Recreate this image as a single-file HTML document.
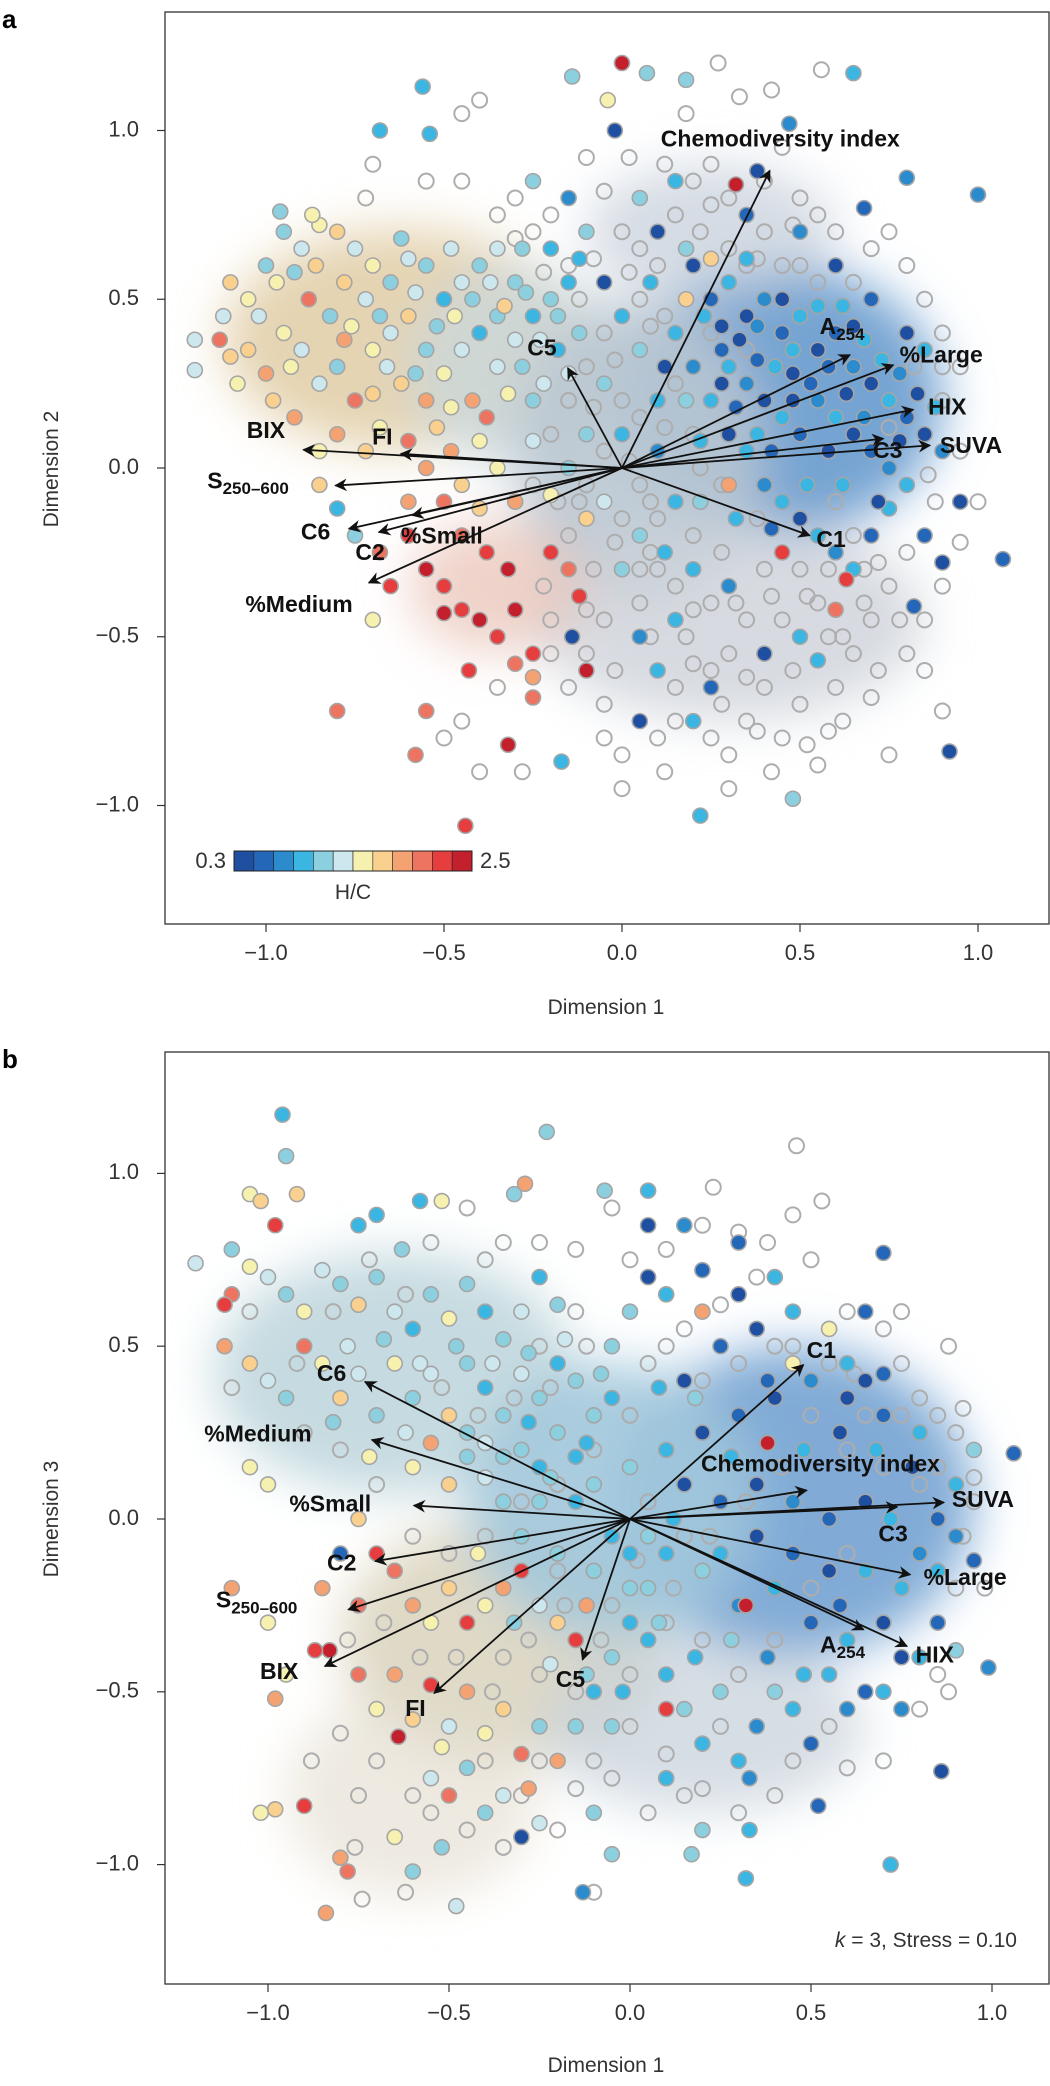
<!DOCTYPE html>
<html><head><meta charset="utf-8"><style>
html,body{margin:0;padding:0;background:#fff;}
svg{display:block;font-family:"Liberation Sans",sans-serif;}
</style></head><body>
<svg id="fig" width="1050" height="2086" viewBox="0 0 1050 2086" xmlns="http://www.w3.org/2000/svg">
<defs>
<filter id="blur" x="-50%" y="-50%" width="200%" height="200%"><feGaussianBlur stdDeviation="24"/></filter>
<marker id="ah" viewBox="0 0 10 10" refX="9" refY="5" markerWidth="7" markerHeight="7" orient="auto-start-reverse"><path d="M0,0 L10,5 L0,10 L3,5 z" fill="#111"/></marker>
<clipPath id="clipA"><rect x="165" y="12" width="884" height="912"/></clipPath>
<clipPath id="clipB"><rect x="165" y="1052" width="884" height="932"/></clipPath>
</defs>
<text x="2" y="28" font-size="26" font-weight="bold">a</text>
<text x="2" y="1068" font-size="26" font-weight="bold">b</text>
<g id="panelA"></g>
<g id="panelB"></g>
</svg>
<script>
const hcColors = ["#1f4fa0","#2467b8","#2b8bcd","#3bb6e2","#8ccfdf","#cde7ee","#f7f1b0","#fad08e","#f5a272","#ee7462","#e63e3e","#c41f2d"];
const hcTickLabels = ["0.3","2.5"];
const xTicks = [-1.0,-0.5,0.0,0.5,1.0];
const yTicks = [-1.0,-0.5,0.0,0.5,1.0];

const ptsA = [
[-1.1,0.55,7],[-1.05,0.5,6],[-1.12,0.45,5],[-1.0,0.6,4],[-0.95,0.7,4],[-0.9,0.65,5],[-0.85,0.72,6],[-0.8,0.7,7],[-0.75,0.65,5],[-1.05,0.35,7],[-1.0,0.28,8],[-0.95,0.4,6],[-0.9,0.35,5],[-0.88,0.5,9],[-0.82,0.45,4],[-0.78,0.55,7],[-0.72,0.5,5],[-0.7,0.6,6],[-0.65,0.55,4],[-0.6,0.62,5],[-0.55,0.6,4],[-1.08,0.25,6],[-0.98,0.2,7],[-0.92,0.15,8],[-0.85,0.25,5],[-0.8,0.3,4],[-0.75,0.2,9],[-0.7,0.35,6],[-0.65,0.4,5],[-0.6,0.45,7],[-0.55,0.35,4],[-0.5,0.5,3],[-0.45,0.55,5],[-0.4,0.6,4],[-0.35,0.65,5],[-0.3,0.55,4],[-0.62,0.25,7],[-0.55,0.2,8],[-0.5,0.28,6],[-0.45,0.35,5],[-0.4,0.4,3],[-0.35,0.45,4],[-0.3,0.38,5],[-0.25,0.45,3],[-0.2,0.5,4],[-0.15,0.55,3],[-0.42,0.2,8],[-0.38,0.15,9],[-0.32,0.22,6],[-0.28,0.3,4],[-0.22,0.25,5],[-0.18,0.35,3],[-0.12,0.4,4],[-0.8,0.1,8],[-0.72,0.05,7],[-0.68,0.12,6],[-0.6,0.08,9],[-0.52,0.12,7],[-0.48,0.05,8],[-0.4,0.08,6],[-0.85,0.05,6],
[-1.02,0.45,5],[-0.97,0.55,6],[-0.92,0.58,4],[-0.86,0.6,7],[-0.76,0.42,6],[-0.68,0.45,4],[-0.58,0.52,5],[-0.52,0.42,4],[-0.47,0.45,6],[-0.42,0.5,4],[-0.37,0.55,5],[-0.33,0.48,7],[-0.27,0.52,4],[-0.23,0.38,5],[-0.18,0.45,4],[-0.66,0.3,5],[-0.58,0.28,4],[-0.48,0.18,6],[-0.35,0.3,5],[-0.25,0.2,4],[-0.15,0.28,5],[-0.7,0.22,7],[-0.78,0.38,8],[-0.93,0.3,6],[-1.1,0.33,7],[-0.62,0.68,4],[-0.48,0.65,5],[-0.28,0.65,4],[-0.12,0.62,3],[-0.55,0.0,8],[-0.45,-0.05,7],[-0.35,0.0,6],[-0.25,0.08,5],[-0.15,0.0,4],
[-1.2,0.38,5],[-1.2,0.29,5],[-1.13,0.38,9],[-0.96,0.76,4],[-0.87,0.75,6],[-0.56,1.13,3],[-0.68,1.0,3],[-0.54,0.99,3],[-0.14,1.16,4],[0.07,1.17,4],[0.18,1.15,4],[0.65,1.17,3],[0.0,1.2,11],[-0.04,1.09,6],[-0.02,1.0,0],[0.47,1.02,2],[0.32,0.84,11],[0.38,0.88,0],[1.0,0.81,2],[0.8,0.86,2],[0.68,0.77,1],
[-0.6,-0.2,10],[-0.55,-0.3,11],[-0.5,-0.35,10],[-0.5,-0.43,11],[-0.45,-0.42,10],[-0.4,-0.45,11],[-0.35,-0.5,10],[-0.3,-0.42,11],[-0.25,-0.55,10],[-0.3,-0.58,9],[-0.25,-0.62,8],[-0.43,-0.6,10],[-0.45,-0.2,9],[-0.38,-0.25,10],[-0.32,-0.3,11],[-0.2,-0.25,10],[-0.15,-0.3,9],[-0.12,-0.38,10],[-0.65,-0.35,10],[-0.7,-0.45,6],[-0.68,-0.25,9],[-0.8,-0.72,9],[-0.55,-0.72,9],[-0.58,-0.85,9],[-0.32,-0.82,11],[-0.44,-1.06,10],[-0.25,-0.68,9],[-0.1,-0.6,11],[-0.6,-0.1,8],[-0.5,-0.1,9],[-0.4,-0.12,7],[-0.3,-0.1,8],[-0.2,-0.08,6],[-0.1,-0.15,7],[-0.8,-0.12,3],[-0.75,-0.2,4],[-0.85,-0.05,7],
[0.2,0.6,0],[0.25,0.5,1],[0.3,0.55,3],[0.35,0.45,0],[0.4,0.5,2],[0.45,0.4,1],[0.5,0.45,3],[0.55,0.35,0],[0.6,0.4,1],[0.65,0.3,2],[0.7,0.25,0],[0.75,0.2,3],[0.8,0.15,1],[0.85,0.1,0],[0.9,0.05,2],[0.3,0.3,3],[0.35,0.25,2],[0.4,0.2,0],[0.45,0.15,3],[0.5,0.1,1],[0.55,0.2,2],[0.6,0.15,3],[0.65,0.1,0],[0.7,0.05,1],[0.75,0.0,2],[0.8,-0.05,3],[0.15,0.4,3],[0.2,0.3,2],[0.25,0.2,3],[0.3,0.1,0],[0.35,0.05,3],[0.4,-0.05,2],[0.45,-0.1,3],[0.5,-0.15,0],[0.55,-0.2,3],[0.6,-0.25,2],[0.65,-0.3,3],[0.7,-0.2,1],[0.75,-0.12,3],[0.85,-0.2,1],[0.9,-0.28,0],[0.95,-0.1,0],[1.07,-0.27,1],[0.92,-0.84,0],[0.82,-0.41,1],[0.2,-0.3,3],[0.3,-0.35,2],[0.15,-0.45,3],[0.05,-0.5,2],[0.1,-0.6,3],[0.25,-0.65,1],[0.4,-0.55,0],[0.5,-0.5,3],[0.55,-0.57,3],[0.2,-0.75,3],[0.05,-0.75,0],[0.22,-1.03,3],[0.48,-0.98,4],[-0.17,-0.87,3],[-0.14,-0.5,0],[0.1,0.7,0],[0.05,0.8,4],[0.15,0.85,3],[0.35,0.75,1],[0.5,0.7,2],[0.6,0.6,0],[0.7,0.5,1],[0.8,0.4,0],[0.85,0.35,3],[-0.05,0.55,0],[0.0,0.45,3],[0.05,0.35,4],[0.1,0.2,3],[-0.05,0.25,4],[0.0,0.1,3],[0.1,0.05,2],[0.15,-0.1,3],[0.05,-0.2,4],[-0.05,-0.1,5],[0.0,-0.3,4],[-0.1,0.1,4],[-0.1,0.7,4],[-0.2,0.65,3],[-0.15,0.8,2],[-0.25,0.85,4],[0.25,0.62,7],[0.18,0.5,7],[0.3,-0.05,8],[0.45,-0.25,10],[0.6,-0.42,9],[0.63,-0.33,10],
[0.28,0.42,0],[0.38,0.32,1],[0.48,0.28,0],[0.58,0.05,0],[0.62,0.48,3],[0.42,0.05,1],[0.52,-0.05,3],[0.32,0.18,1],[0.22,0.08,3],[0.12,0.3,0],[0.68,0.38,3],[0.78,0.28,2],[0.72,-0.1,0],
[0.23,0.45,3],[0.33,0.38,0],[0.43,0.3,3],[0.53,0.25,1],[0.63,0.22,0],[0.73,0.32,3],[0.83,0.22,0],[0.58,0.3,1],[0.48,0.35,3],[0.38,0.42,2],[0.28,0.35,1],[0.18,0.2,4],[0.28,0.25,0],[0.38,0.1,3],[0.48,0.2,0],[0.62,-0.05,3],[0.68,0.15,2],[0.78,0.08,0],[0.88,0.18,3],[0.42,-0.18,1],[0.32,-0.15,3],[0.22,-0.1,4],[0.12,-0.25,3],[0.35,0.62,3],[0.45,0.5,0],[0.55,0.48,3],[0.65,0.42,0],[0.08,0.55,3],[0.18,0.65,4]
];
const ringsA = [
[0.0,0.7],[0.05,0.65],[0.1,0.6],[0.15,0.75],[0.2,0.85],[0.25,0.9],[0.3,0.8],[0.4,0.85],[0.45,0.95],[0.5,0.8],[0.55,0.75],[0.3,0.65],[0.4,0.7],[0.45,0.6],[0.55,0.55],[0.65,0.55],[0.7,0.65],[0.75,0.7],[0.8,0.6],[0.85,0.5],[0.9,0.4],[0.95,0.3],[0.9,0.2],[0.95,0.05],[1.0,-0.1],[0.9,-0.35],[0.85,-0.45],[0.8,-0.55],[0.7,-0.45],[0.65,-0.55],[0.6,-0.65],[0.5,-0.7],[0.45,-0.8],[0.4,-0.65],[0.35,-0.75],[0.3,-0.85],[0.25,-0.6],[0.15,-0.65],[0.1,-0.8],[0.0,-0.85],[-0.05,-0.7],[-0.1,-0.55],[-0.2,-0.45],[-0.15,-0.65],[-0.05,-0.45],[0.05,-0.4],[0.1,-0.3],[0.2,-0.2],[0.25,-0.4],[0.35,-0.45],[0.4,-0.3],[0.45,-0.45],[0.55,-0.4],[0.6,-0.1],[0.65,-0.2],[0.75,-0.35],[0.8,-0.25],[0.1,-0.15],[0.05,-0.05],[-0.05,0.05],[0.0,0.2],[0.05,0.15],[-0.1,0.3],[-0.05,0.4],[0.05,0.5],[-0.15,0.6],[-0.2,0.75],[-0.25,0.7],[-0.3,0.8],[-0.35,0.75],[-0.45,0.85],[-0.55,0.85],[-0.7,0.9],[-0.72,0.8],[-0.15,0.2],[-0.2,0.1],[-0.25,-0.05],[-0.1,-0.05],[-0.15,-0.2],[0.0,-0.15],[-0.35,-0.65],[-0.45,-0.75],[-0.5,-0.8],[-0.4,-0.9],[-0.28,-0.9],[0.0,-0.95],[-0.2,-0.55],[0.27,1.2],[0.56,1.18],[0.18,1.05],[0.33,1.1],[0.42,1.12],[-0.45,1.05],[-0.4,1.09],[0.7,-0.68],[0.75,-0.85],[0.85,-0.6],[0.9,-0.72],[0.42,-0.9],[0.3,-0.95],[0.58,-0.78],[0.75,0.12],[0.82,0.3],[0.35,0.35],[0.25,0.4],[0.2,0.1],[0.15,0.25],
[0.12,0.45],[0.22,0.7],[0.35,0.6],[0.5,0.6],[0.6,0.7],[0.08,-0.25],[0.18,-0.5],[0.3,-0.55],[0.5,-0.3],[0.62,-0.5],[0.72,-0.6],[0.38,-0.15],[0.28,-0.25],[-0.08,-0.3],[-0.02,-0.6],[0.12,-0.9],[0.25,-0.8],[0.55,-0.88],[0.68,-0.3],[0.88,-0.1],
[-0.08,0.62],[0.02,0.58],[-0.12,0.5],[0.08,0.42],[-0.02,0.32],[0.12,0.12],[-0.08,0.18],[0.02,0.02],[-0.12,-0.1],[0.08,-0.1],[-0.02,-0.22],[0.15,-0.35],[0.05,-0.3],[0.2,-0.42],[0.32,-0.4],[0.42,-0.38],[0.52,-0.38],[0.48,-0.6],[0.35,-0.62],[0.2,-0.58],[0.08,-0.5],[0.58,-0.5],[0.68,-0.4],[0.78,-0.45],[0.72,-0.28],[0.58,-0.3],[0.28,-0.7],[0.15,-0.75],[-0.05,-0.8],[0.38,-0.78],[0.52,-0.82],[0.62,-0.75],[0.25,0.78],[0.38,0.62],[0.48,0.72],[0.12,0.9],[-0.05,0.82],[-0.1,0.92],[0.02,0.92],[-0.22,0.58],[-0.3,0.68],[0.9,0.3],[0.86,-0.02],[0.95,-0.22],[0.28,-0.05],[0.22,0.0],[-0.18,-0.1],[-0.22,-0.35],[-0.1,-0.42]
];
const arrowsA = [
["Chemodiversity index","",0.415,0.881,0.109,0.97],["A","254",0.64,0.335,0.555,0.415],["%Large","",0.762,0.305,0.78,0.33],["HIX","",0.818,0.173,0.86,0.177],["C3","",0.734,0.087,0.705,0.048],["SUVA","",0.865,0.067,0.893,0.063],["C1","",0.527,-0.2,0.546,-0.216],["C5","",-0.152,0.296,-0.266,0.351],["BIX","",-0.895,0.054,-1.054,0.107],["FI","",-0.621,0.042,-0.702,0.087],["S","250–600",-0.805,-0.052,-1.165,-0.042],["C6","",-0.767,-0.18,-0.902,-0.194],["C2","",-0.683,-0.19,-0.749,-0.254],["%Small","",-0.589,-0.14,-0.621,-0.206],["%Medium","",-0.711,-0.34,-1.058,-0.409]
];

const ptsB = [
[-1.2,0.74,5],[-0.96,1.17,3],[-0.95,1.05,4],[-1.05,0.94,6],[-1.02,0.92,7],[-0.92,0.94,7],[-0.75,0.85,3],[-0.7,0.88,3],[-0.63,0.78,4],[-0.58,0.92,3],[-0.52,0.92,6],[-0.32,0.94,4],[-0.23,1.12,4],[-0.29,0.97,8],[-0.07,0.95,4],[0.05,0.95,3],[-1.1,0.78,4],[-1.05,0.73,6],[-1.0,0.7,5],[-0.95,0.65,4],[-0.9,0.6,6],[-0.85,0.72,5],[-0.8,0.68,4],[-0.75,0.62,7],[-0.7,0.7,4],[-0.65,0.6,5],[-0.6,0.55,3],[-0.55,0.65,4],[-0.5,0.58,6],[-0.45,0.68,4],[-0.4,0.6,3],[-0.35,0.52,4],[-0.3,0.6,5],[-0.25,0.7,3],[-0.2,0.62,4],[-1.12,0.5,8],[-1.05,0.45,7],[-1.0,0.4,5],[-0.95,0.35,4],[-0.9,0.5,9],[-0.85,0.45,6],[-0.8,0.35,7],[-0.75,0.42,5],[-0.7,0.3,4],[-0.65,0.45,6],[-0.6,0.35,4],[-0.55,0.42,5],[-0.5,0.3,7],[-0.45,0.45,4],[-0.4,0.38,3],[-0.35,0.3,4],[-0.3,0.42,5],[-0.25,0.35,4],[-0.2,0.45,3],[-0.15,0.4,4],[-1.1,0.65,9],[-1.12,0.62,10],[-0.98,0.85,10],[-0.55,0.22,8],[-0.6,0.15,6],[-0.5,0.1,7],[-0.45,0.18,4],[-0.4,0.12,5],[-0.3,0.2,4],[-0.25,0.15,3],[-0.2,0.25,4],[-0.15,0.18,3],[-0.1,0.3,4],[-0.05,0.35,3],[-1.05,0.15,6],[-1.0,0.1,6],[-0.75,0.0,7],[-0.8,-0.1,1],[-0.85,-0.2,8],[-0.75,-0.25,9],[-0.7,-0.1,10],[-0.65,-0.15,9],[-0.6,-0.25,8],[-0.55,-0.3,6],[-0.5,-0.2,7],[-0.45,-0.3,10],[-0.4,-0.25,6],[-0.35,-0.2,8],[-0.3,-0.15,10],[-0.25,-0.25,5],[-0.2,-0.3,7],[-0.15,-0.35,10],[-1.1,-0.2,8],[-1.0,-0.3,6],[-0.95,-0.45,6],[-0.83,-0.38,11],[-0.87,-0.38,10],[-0.98,-0.52,8],[-0.75,-0.45,9],[-0.7,-0.55,6],[-0.65,-0.45,8],[-0.6,-0.58,7],[-0.55,-0.48,10],[-0.5,-0.6,5],[-0.45,-0.5,8],[-0.4,-0.62,6],[-0.35,-0.55,7],[-0.3,-0.68,9],[-0.25,-0.6,4],[-0.2,-0.7,8],[-0.64,-0.63,11],[-0.52,-0.66,6],[-0.9,-0.83,10],[-1.02,-0.85,6],[-0.98,-0.84,7],[-0.8,-0.98,8],[-0.78,-1.02,9],[-0.84,-1.14,8],[-0.65,-0.92,6],[-0.6,-1.02,4],[-0.52,-0.95,4],[-0.48,-1.12,5],[-0.55,-0.75,5],[-0.4,-0.85,4],[-0.3,-0.92,0],[-0.25,-0.88,5],[-0.1,-0.85,4],[-0.05,-0.97,4],[-0.13,-1.08,2],[-0.5,-0.8,9],[-0.45,-0.72,4],[-0.35,-0.8,5],[-0.28,-0.78,8],[-0.15,-0.6,4],[-0.1,-0.5,3],[-0.05,-0.4,4],[0.0,-0.3,3],[0.05,-0.2,4],[0.1,-0.45,3],[0.15,-0.55,4],[0.2,-0.65,3],[0.25,-0.5,4],[0.3,-0.7,3],[0.35,-0.6,2],[0.4,-0.5,4],[0.45,-0.55,3],[0.5,-0.65,1],[0.55,-0.45,3],[0.6,-0.55,2],[0.65,-0.5,1],[0.7,-0.5,3],[0.75,-0.55,2],[0.8,-0.4,3],[0.85,-0.3,1],[0.9,-0.38,4],[0.95,-0.12,1],[0.99,-0.43,2],[1.06,0.19,1],[0.86,-0.73,0],[0.72,-1.0,3],[0.52,-0.83,1],[0.33,-0.9,3],[0.32,-1.04,3],[0.17,-0.97,4],[0.33,-0.75,2],[0.2,-0.9,4],[0.0,-0.2,4],[0.1,-0.1,3],[0.2,-0.15,4],[0.3,-0.25,2],[0.4,-0.2,3],[0.5,-0.3,1],[0.6,-0.35,3],[0.7,-0.3,0],[0.75,-0.2,3],[0.8,-0.1,2],[0.85,0.0,1],[0.9,0.1,3],[0.95,0.2,4],[0.8,0.25,3],[0.7,0.3,1],[0.6,0.35,0],[0.5,0.4,2],[0.4,0.35,0],[0.3,0.3,1],[0.2,0.25,0],[0.1,0.2,3],[0.0,0.15,4],[0.15,0.1,0],[0.25,0.05,1],[0.35,0.1,0],[0.45,0.05,2],[0.55,0.0,1],[0.65,0.05,0],[0.72,0.0,3],[0.35,-0.05,0],[0.45,-0.1,1],[0.55,-0.15,0],[0.25,-0.1,3],[0.15,0.4,0],[0.25,0.5,1],[0.35,0.55,0],[0.45,0.6,3],[0.55,0.55,1],[0.65,0.4,0],[0.0,0.6,4],[0.05,0.7,0],[0.1,0.65,3],[0.2,0.72,1],[0.3,0.8,1],[0.15,0.85,2],[0.05,0.85,0],[0.7,0.77,1],[0.65,0.6,1],[-0.05,0.5,4],[-0.1,0.1,4],[-0.05,-0.05,3],[0.38,0.22,11],[0.32,-0.25,11],[0.45,0.45,6],[0.2,0.6,8],[0.1,-0.55,10],[-0.12,-0.25,8],[0.55,0.55,6],
[-0.35,0.05,4],[-0.25,0.05,4],[-0.15,0.05,3],[-0.2,-0.1,4],[-0.1,-0.15,4],[0.05,-0.05,4],[0.0,-0.1,3],[-0.3,-0.05,4],[0.12,0.0,3],[0.05,-0.35,3],[-0.05,-0.6,4],[0.1,-0.75,3],
[-0.45,0.25,4],[-0.4,0.22,5],[-0.35,0.18,4],[-0.28,0.28,3],[-0.22,0.12,4],[-0.12,0.22,3],[-0.08,0.42,4],[-0.18,0.52,5],[-0.28,0.48,4],[-0.38,0.45,5],[-0.48,0.5,4],[-0.58,0.45,5],[-0.68,0.52,4],[-0.78,0.5,5],[-0.62,0.25,5],[-0.72,0.18,6],[-0.82,0.28,4],[-0.42,-0.1,6],[-0.32,-0.3,4],[-0.22,-0.42,5],[-0.12,-0.45,4],[-0.02,-0.5,3],[0.08,-0.3,4],[0.18,-0.4,3],[0.28,-0.35,4],[0.38,-0.4,2],[0.48,-0.45,3],[0.58,-0.25,1],[0.65,-0.15,3],[0.75,-0.4,0],[0.85,-0.15,3],[0.9,-0.05,2],[0.78,0.15,0],[0.68,0.2,3],[0.58,0.25,0],[0.48,0.2,3],[0.38,0.4,1],[0.28,0.18,3],[0.18,0.35,4],[0.08,0.38,3],[0.3,0.65,0],[0.4,0.7,3],[0.6,0.45,3],[0.7,0.42,1]
];
const ringsB = [
[0.46,1.08],[0.23,0.96],[0.45,0.88],[0.53,0.92],[0.3,0.83],[0.38,0.8],[0.5,0.75],[0.6,0.6],[0.7,0.55],[0.75,0.45],[0.8,0.35],[0.85,0.3],[0.9,0.25],[0.95,0.05],[0.92,-0.05],[0.9,-0.2],[0.85,-0.45],[0.8,-0.55],[0.7,-0.7],[0.6,-0.72],[0.55,-0.6],[0.45,-0.7],[0.4,-0.8],[0.3,-0.85],[0.2,-0.78],[0.1,-0.68],[0.0,-0.6],[-0.1,-0.7],[-0.15,-0.78],[-0.2,-0.9],[-0.3,-0.8],[-0.35,-0.95],[-0.45,-0.9],[-0.55,-0.85],[-0.6,-0.8],[-0.7,-0.7],[-0.8,-0.62],[-0.75,-0.8],[-0.88,-0.7],[-0.74,-1.1],[-0.62,-1.08],[-0.76,-0.95],[-0.1,-1.08],[0.2,0.85],[0.1,0.78],[0.0,0.75],[-0.05,0.9],[-0.15,0.78],[0.1,0.5],[0.2,0.4],[0.3,0.45],[0.4,0.5],[0.5,0.3],[0.6,0.2],[0.7,0.15],[0.8,0.1],[0.6,-0.1],[0.5,-0.2],[0.4,-0.35],[0.3,-0.45],[0.2,-0.35],[0.1,-0.3],[0.05,0.05],[0.15,-0.05],[0.0,0.3],[-0.1,0.2],[-0.2,0.1],[-0.3,0.05],[-0.4,-0.05],[-0.5,-0.1],[-0.6,-0.05],[-0.7,0.1],[-0.8,0.2],[-0.9,0.25],[-1.05,0.6],[-1.1,0.38],[-0.35,0.8],[-0.4,0.75],[-0.55,0.8],[-0.45,0.9],[-0.25,0.8],[-0.15,0.6],[-0.25,0.5],[-0.35,-0.4],[-0.25,-0.45],[-0.15,-0.5],[-0.05,-0.25],[-0.2,-0.15],[0.0,-0.45],[0.62,0.42],[0.88,0.5],[0.75,0.6],[0.92,0.32],[0.98,-0.2],[0.88,-0.5],
[0.05,0.45],[0.15,0.55],[0.25,0.62],[0.35,0.7],[0.45,0.5],[0.55,0.45],[0.65,0.3],[0.75,0.3],[0.85,0.15],[0.95,0.12],[0.42,0.15],[0.32,0.05],[0.22,-0.05],[0.12,-0.2],[0.02,-0.12],[-0.08,-0.35],[-0.18,-0.25],[-0.28,-0.35],[-0.38,-0.5],[-0.48,-0.4],[-0.58,-0.4],[-0.68,-0.3],[-0.78,-0.35],[-0.12,0.5],[-0.22,0.38],[-0.32,0.35],[-0.42,0.3],[-0.52,0.38],[-0.62,0.65],[-0.72,0.75],[-0.82,0.6],[-0.92,0.45],[0.25,-0.6],[0.15,-0.8],[0.05,-0.85],[-0.05,-0.75],[-0.25,-0.7],[-0.4,-0.7]
];
const arrowsB = [
["C1","",0.479,0.446,0.488,0.484],["C6","",-0.732,0.397,-0.865,0.417],["%Medium","",-0.713,0.229,-1.176,0.242],["Chemodiversity index","",0.488,0.083,0.196,0.155],["SUVA","",0.867,0.048,0.889,0.052],["C3","",0.738,0.035,0.686,-0.048],["%Small","",-0.597,0.039,-0.941,0.039],["%Large","",0.774,-0.161,0.811,-0.174],["C2","",-0.704,-0.122,-0.837,-0.132],["S","250–600",-0.778,-0.262,-1.144,-0.238],["A","254",0.645,-0.32,0.525,-0.368],["HIX","",0.765,-0.368,0.789,-0.397],["BIX","",-0.843,-0.426,-1.022,-0.446],["C5","",-0.131,-0.407,-0.205,-0.469],["FI","",-0.541,-0.504,-0.621,-0.552]
];

const NS = "http://www.w3.org/2000/svg";
function mk(tag, attrs, parent){const e=document.createElementNS(NS,tag);for(const k in attrs)e.setAttribute(k,attrs[k]);parent.appendChild(e);return e;}

function drawPanel(g, cfg){
  const sx = v => cfg.x0 + v*cfg.kx;
  const sy = v => cfg.y0 - v*cfg.ky;
  const bg = mk("g",{filter:"url(#blur)","clip-path":`url(#${cfg.clip})`},g);
  
  
  cfg.blobs.forEach(b=>{mk("ellipse",{cx:sx(b[0]),cy:sy(b[1]),rx:b[2]*cfg.kx,ry:b[3]*cfg.ky,fill:b[4],opacity:b[5]},bg);});
  const pts = mk("g",{"clip-path":`url(#${cfg.clip})`},g);
  
  
  cfg.rings.forEach(p=>{
    const c=mk("circle",{cx:sx(p[0]),cy:sy(p[1]),r:7.5,fill:"none",stroke:"#adadad","stroke-width":2},pts);
    
    
  });
  cfg.pts.forEach(p=>{
    const c=mk("circle",{cx:sx(p[0]),cy:sy(p[1]),r:7.5,fill:hcColors[p[2]],stroke:"#a5a5a5","stroke-width":1.6},pts);
    
    
  });
  const ag = mk("g",{},g);
  
  
  cfg.arrows.forEach(a=>{
    const l=mk("line",{x1:sx(0),y1:sy(0),x2:sx(a[2]),y2:sy(a[3]),stroke:"#111","stroke-width":1.8,"marker-end":"url(#ah)"},ag);
    
    
    const t=mk("text",{x:sx(a[4]),y:sy(a[5]),"font-size":23,"font-weight":"bold",fill:"#111","dominant-baseline":"middle"},ag);
    
    
    t.textContent=a[0];
    if(a[1]){const s=mk("tspan",{"font-size":17,dy:8},t);s.textContent=a[1];}
  });
  const fr=mk("rect",{x:cfg.bx,y:cfg.by,width:cfg.bw,height:cfg.bh,fill:"none",stroke:"#333","stroke-width":1.3},g);
  
  
  const xa=mk("g",{},g);
  
  
  const yb=cfg.by+cfg.bh;
  xTicks.forEach(v=>{
    mk("line",{x1:sx(v),x2:sx(v),y1:yb,y2:yb+8,stroke:"#333","stroke-width":1.2},xa);
    const t=mk("text",{x:sx(v),y:yb+36,"font-size":22,"text-anchor":"middle",fill:"#333"},xa);
    
    
    t.textContent=(v<0?"−":"")+Math.abs(v).toFixed(1);
  });
  const ya=mk("g",{},g);
  
  
  yTicks.forEach(v=>{
    mk("line",{x1:cfg.bx-8,x2:cfg.bx,y1:sy(v),y2:sy(v),stroke:"#333","stroke-width":1.2},ya);
    const t=mk("text",{x:cfg.bx-26,y:sy(v),"font-size":22,"text-anchor":"end","dominant-baseline":"middle",fill:"#333"},ya);
    
    
    t.textContent=(v<0?"−":"")+Math.abs(v).toFixed(1);
  });
  const xt=mk("text",{x:606,y:cfg.xTitleY,"font-size":21,"text-anchor":"middle",fill:"#333"},g);
  
  
  xt.textContent="Dimension 1";
  const yt=mk("text",{x:0,y:0,"font-size":21,"text-anchor":"middle",fill:"#333",transform:`translate(58,${cfg.yTitleY}) rotate(-90)`},g);
  
  
  yt.textContent=cfg.yTitle;
}

drawPanel(document.getElementById("panelA"),{
  x0:622,kx:356,y0:468,ky:337.5,bx:165,by:12,bw:884,bh:912,clip:"clipA",
  pts:ptsA,rings:ringsA,arrows:arrowsA,xTitleY:1014,yTitleY:469,yTitle:"Dimension 2",
  blobs:[[-0.62,0.38,0.5,0.33,"#e2cfaa",0.9],[-0.3,0.3,0.3,0.3,"#c9d8dc",0.8],[0.45,0.2,0.45,0.4,"#6f9fd0",0.95],[0.05,0.05,0.35,0.45,"#b9c6d2",0.9],[0.3,-0.45,0.55,0.3,"#cdd2d9",0.8],[-0.35,-0.35,0.25,0.2,"#e8c0b4",0.7],[0.25,0.7,0.35,0.2,"#c3cdd8",0.7]]
});
drawPanel(document.getElementById("panelB"),{
  x0:630,kx:362,y0:1519,ky:345.6,bx:165,by:1052,bw:884,bh:932,clip:"clipB",
  pts:ptsB,rings:ringsB,arrows:arrowsB,xTitleY:2072,yTitleY:1519,yTitle:"Dimension 3",
  blobs:[[-0.65,0.42,0.5,0.35,"#c3d9df",0.95],[0.45,0.05,0.5,0.45,"#7aa6d4",0.95],[-0.35,-0.35,0.45,0.35,"#d9d2bc",0.85],[-0.05,0.05,0.4,0.4,"#a2c8dc",0.9],[0.2,-0.6,0.45,0.25,"#c8d3dc",0.75],[-0.6,-0.8,0.35,0.3,"#e2dccd",0.6]]
});

const cb = document.getElementById("panelA");
const cbg = mk("g",{},cb);


const cbw = 238/hcColors.length;
hcColors.forEach((c,i)=>{mk("rect",{x:234+i*cbw,y:851,width:cbw,height:20,fill:c,stroke:"#222","stroke-width":0.6},cbg);});
mk("rect",{x:234,y:851,width:238,height:20,fill:"none",stroke:"#222","stroke-width":1},cbg);
const l0=mk("text",{x:226,y:868,"font-size":22,"text-anchor":"end",fill:"#333"},cbg);l0.textContent=hcTickLabels[0];
const l1=mk("text",{x:480,y:868,"font-size":22,fill:"#333"},cbg);l1.textContent=hcTickLabels[1];
const lt=mk("text",{x:353,y:899,"font-size":21,"text-anchor":"middle",fill:"#333"},cbg);lt.textContent="H/C";



const st=mk("text",{x:1017,y:1947,"font-size":21,"text-anchor":"end",fill:"#333"},document.getElementById("panelB"));


const ki=mk("tspan",{"font-style":"italic"},st);ki.textContent="k";
const rest=mk("tspan",{},st);rest.textContent=" = 3, Stress = 0.10";
</script>
</body></html>
